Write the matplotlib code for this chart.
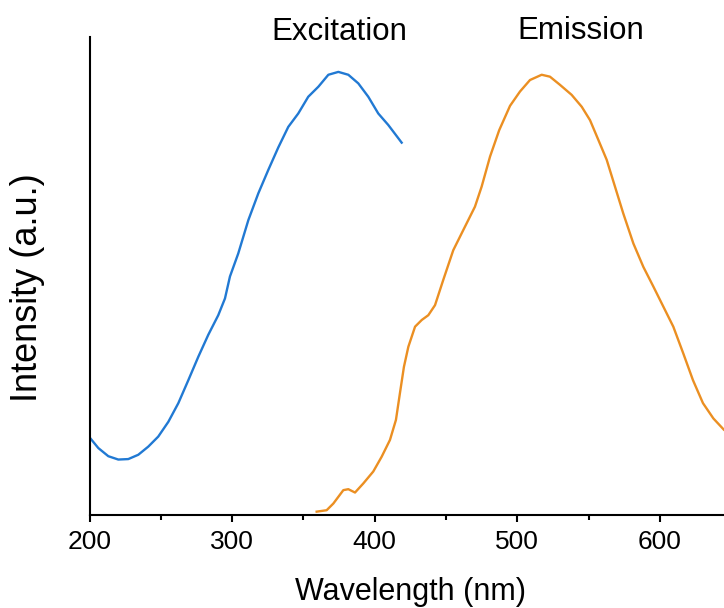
import matplotlib
matplotlib.use("Agg")
import matplotlib.pyplot as plt
from matplotlib.ticker import MultipleLocator

plt.rcParams['font.family'] = ['Liberation Sans', 'DejaVu Sans']

# Excitation spectrum (wavelength nm, relative intensity)
ex_wl = [199.6, 206.2, 213.2, 220.2, 227.2, 234.2, 241.2, 248.2, 255.3, 262.3, 269.3,
         276.3, 283.3, 290.3, 295, 298.5, 304.3, 311.4, 318.4, 325.4, 332.4, 339.4,
         346.4, 353.4, 360.5, 367.5, 374.5, 381.5, 388.5, 395.5, 402.5, 409.5, 418.9]
ex_int = [0.164, 0.140, 0.123, 0.116, 0.117, 0.126, 0.143, 0.164, 0.195, 0.234, 0.282,
          0.331, 0.377, 0.418, 0.453, 0.499, 0.547, 0.617, 0.673, 0.722, 0.769, 0.812,
          0.840, 0.875, 0.896, 0.921, 0.927, 0.921, 0.903, 0.875, 0.840, 0.816, 0.779]

# Emission spectrum
em_wl = [359.3, 366.3, 371, 378, 381.5, 386.2, 392, 399, 404.9, 410.7, 414.9, 417.7,
         420.5, 423.6, 428.3, 433, 437.6, 442.3, 448.1, 455.1, 462.1, 470.3, 475, 480.9,
         487.3, 494.9, 501.9, 508.9, 517.1, 522.9, 529.9, 538.1, 545.2, 551, 556.8, 562.7,
         568.5, 574.3, 581.4, 588.4, 595.4, 602.4, 609.4, 616.4, 623.2, 630.2, 637.5, 645,
         650]
em_int = [0.007, 0.010, 0.024, 0.052, 0.054, 0.047, 0.066, 0.091, 0.122, 0.157, 0.199, 0.255,
          0.310, 0.352, 0.394, 0.408, 0.418, 0.439, 0.492, 0.554, 0.596, 0.645, 0.687, 0.750,
          0.805, 0.856, 0.886, 0.910, 0.921, 0.917, 0.900, 0.879, 0.854, 0.826, 0.785, 0.743,
          0.687, 0.631, 0.568, 0.519, 0.478, 0.436, 0.394, 0.338, 0.282, 0.234, 0.202, 0.178,
          0.168]

x_ticks = [200, 300, 400, 500, 600]

fig = plt.figure(figsize=(7.24, 6.08), dpi=100)
ax = fig.add_axes([89.5 / 724, 93 / 608, 641.7 / 724, 478 / 608])

ax.plot(ex_wl, ex_int, color='#2179d3', lw=1.7, solid_joinstyle='round')
ax.plot(em_wl, em_int, color='#eb8f22', lw=1.7, solid_joinstyle='round')

ax.set_xlim(200, 650)
ax.set_ylim(0, 1.0)
ax.set_xticks(x_ticks)
ax.xaxis.set_minor_locator(MultipleLocator(50))
ax.set_yticks([])

for s in ['top', 'right']:
    ax.spines[s].set_visible(False)
for s in ['left', 'bottom']:
    ax.spines[s].set_linewidth(1.5)

ax.tick_params(axis='x', which='major', direction='out', length=5, width=1.5,
               labelsize=19, pad=6)
ax.tick_params(axis='x', which='minor', direction='out', length=3.5, width=1.5)

ax.set_xlabel('Wavelength (nm)', fontsize=22)
ax.xaxis.set_label_coords(0.5, -0.13)
ax.set_ylabel('Intensity (a.u.)', fontsize=26)
ax.yaxis.set_label_coords(-0.069, 0.475)

ax.text(375.3, 0.993, 'Excitation', fontsize=22.5, ha='center', va='baseline', clip_on=False)
ax.text(544.3, 0.996, 'Emission', fontsize=22.5, ha='center', va='baseline', clip_on=False)

fig.savefig('out.png', dpi=100)
